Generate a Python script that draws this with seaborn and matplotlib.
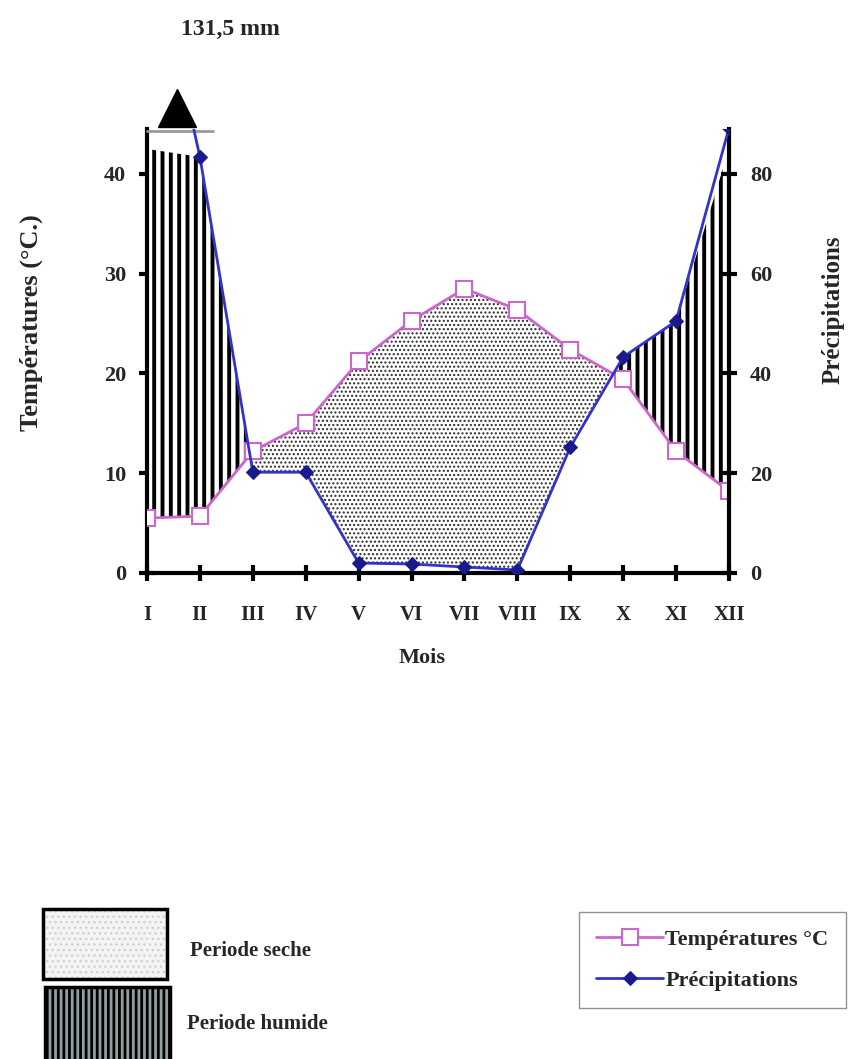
import numpy as np
import pandas as pd
import matplotlib
matplotlib.use("Agg")
import matplotlib.pyplot as plt
import seaborn as sns
from matplotlib.patches import Rectangle

# ---- data ----
months = ["I", "II", "III", "IV", "V", "VI", "VII", "VIII", "IX", "X", "XI", "XII"]
temperatures = [5.5, 5.7, 12.2, 15.0, 21.2, 25.3, 28.5, 26.4, 22.4, 19.4, 12.2, 8.2]
precipitations = [131.5, 83.4, 20.2, 20.2, 2.0, 1.8, 1.2, 0.6, 25.2, 43.3, 50.5, 89.2]
temp_ticks = [0, 10, 20, 30, 40]
prec_ticks = [0, 20, 40, 60, 80]
peak_label = "131,5 mm"

sns.set_theme(style="white")
plt.rcParams["font.family"] = ["Liberation Serif", "DejaVu Serif"]
plt.rcParams["font.weight"] = "bold"

df = pd.DataFrame({"pos": np.arange(len(months)), "mois": months,
                   "temp": temperatures, "prec": precipitations})

W, H = 853, 1059
fig = plt.figure(figsize=(W / 100, H / 100), dpi=100)
ax = fig.add_axes([147 / W, (H - 573) / H, 582 / W, 444 / H])
ax.set_xlim(0, 11)
ax.set_ylim(0, 44.5)
ax2 = ax.twinx()
ax2.set_ylim(0, 89)

x = df["pos"].to_numpy(dtype=float)
T = df["temp"].to_numpy()
P2 = df["prec"].to_numpy() / 2.0
cap = 42.5

# humid period (vertical stripes)
with plt.rc_context({"hatch.linewidth": 2.8}):
    ax.fill_between(x, T, np.minimum(P2, cap), where=P2 >= T, interpolate=True,
                    facecolor="white", edgecolor="black", hatch="||", linewidth=0, zorder=1)
# dry period (dots)
with plt.rc_context({"hatch.linewidth": 1.0}):
    ax.fill_between(x, P2, T, where=T >= P2, interpolate=True,
                    facecolor="white", edgecolor="#2a2a2a", hatch="....", linewidth=0, zorder=1)

sns.lineplot(data=df, x="pos", y="temp", ax=ax, color="#cc66cc", linewidth=2,
             marker="s", markersize=11, markerfacecolor="white",
             markeredgecolor="#cc66cc", markeredgewidth=1.5, zorder=3)
sns.lineplot(data=df, x="pos", y="prec", ax=ax2, color="#3333cc", linewidth=2,
             marker="D", markersize=7, markerfacecolor="#1a1a8c",
             markeredgecolor="#1a1a8c", zorder=3)
line_t = ax.get_lines()[-1]
line_p = ax2.get_lines()[-1]

# spines
for a in (ax, ax2):
    a.spines["top"].set_visible(False)
ax.spines["right"].set_visible(False)
ax2.spines["left"].set_visible(False)
ax2.spines["bottom"].set_visible(False)
for s in ("left", "bottom"):
    ax.spines[s].set_linewidth(3)
    ax.spines[s].set_color("black")
ax2.spines["right"].set_linewidth(3)
ax2.spines["right"].set_color("black")

ax.set_xticks(x)
ax.set_xticklabels(months)
ax.set_yticks(temp_ticks)
ax2.set_yticks(prec_ticks)
ax.tick_params(axis="x", direction="inout", length=12, width=3, color="black",
               labelsize=15, pad=17, bottom=True)
ax.tick_params(axis="y", direction="inout", length=12, width=3, color="black",
               labelsize=16, pad=9, left=True)
ax2.tick_params(axis="y", direction="inout", length=12, width=3, color="black",
                labelsize=16, pad=9, right=True)
for lab in ax.get_xticklabels() + ax.get_yticklabels() + ax2.get_yticklabels():
    lab.set_fontweight("bold")

ax.set_xlabel("Mois", fontsize=16, fontweight="bold")
ax.xaxis.set_label_coords(0.473, (573 - 658) / 444)
ax.xaxis.label.set_verticalalignment("center")
ax.set_ylabel("Températures (°C.)", fontsize=19, fontweight="bold")
ax.yaxis.set_label_coords((31 - 147) / 582, (573 - 323) / 444)
ax.yaxis.label.set_verticalalignment("center")
ax2.set_ylabel("Précipitations", fontsize=18, fontweight="bold", rotation=90)
ax2.yaxis.set_label_coords((833 - 147) / 582, (573 - 310) / 444)
ax2.yaxis.label.set_verticalalignment("center")
ax.grid(False)
ax2.grid(False)

# off-scale marker for January
ax.plot([0, 1.25], [44.3, 44.3], color="#999999", linewidth=2, clip_on=False, zorder=4)
ax.plot([0.57], [46.6], marker="^", markersize=28, color="black", clip_on=False, zorder=4)
ax.text(1.58, 54.5, peak_label, ha="center", va="center", fontsize=17, fontweight="bold")

# left legend (patches)
r1 = Rectangle((43 / W, 1 - 979 / H), 124 / W, 70 / H, transform=fig.transFigure,
               facecolor="#f4f4f4", edgecolor="#cfcfcf", hatch="...", linewidth=0)
r1b = Rectangle((43 / W, 1 - 979 / H), 124 / W, 70 / H, transform=fig.transFigure,
                facecolor="none", edgecolor="black", linewidth=2.5)
with plt.rc_context({"hatch.linewidth": 2.0}):
    r2 = Rectangle((45 / W, 1 - 1062 / H), 125 / W, 75 / H, transform=fig.transFigure,
                   facecolor="#8fa0a0", edgecolor="black", hatch="|||", linewidth=2.5)
for r in (r1, r1b, r2):
    fig.add_artist(r)
fig.text(190 / W, 1 - 951 / H, "Periode seche", fontsize=15, fontweight="bold", va="center")
fig.text(187 / W, 1 - 1024 / H, "Periode humide", fontsize=15, fontweight="bold", va="center")

# right legend
leg = fig.legend([line_t, line_p], ["Températures °C", "Précipitations"],
                 loc="center", bbox_to_anchor=(712.5 / W, 1 - 960 / H),
                 frameon=True, fancybox=False, edgecolor="#777777",
                 handlelength=3.0, handletextpad=0.1, borderpad=0.8, labelspacing=0.9,
                 prop={"weight": "bold", "size": 16})

fig.savefig("out.png", dpi=100, facecolor="white")
